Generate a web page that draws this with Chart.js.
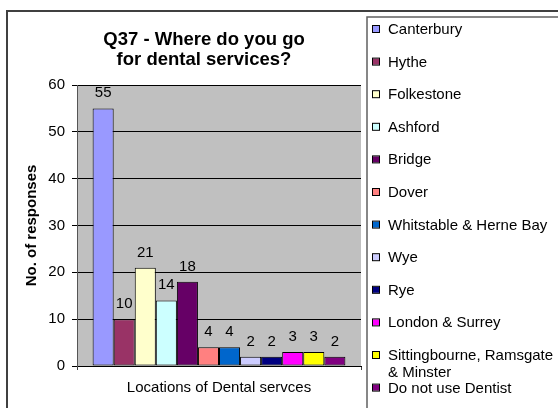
<!DOCTYPE html>
<html>
<head>
<meta charset="utf-8">
<script src="https://cdn.jsdelivr.net/npm/chart.js@4/dist/chart.umd.min.js"></script>
<style>
  html, body { margin: 0; padding: 0; background: #fff; }
</style>
</head>
<body>
<canvas id="chart" width="558" height="408"></canvas>
<script>
const titleLines = ['Q37 - Where do you go', 'for dental services?'];
const locations = ['Canterbury', 'Hythe', 'Folkestone', 'Ashford', 'Bridge', 'Dover',
  'Whitstable & Herne Bay', 'Wye', 'Rye', 'London & Surrey',
  'Sittingbourne, Ramsgate & Minster', 'Do not use Dentist'];
const responses = [55, 10, 21, 14, 18, 4, 4, 2, 2, 3, 3, 2];
const barColours = ['#9999ff', '#993366', '#ffffcc', '#ccffff', '#660066', '#ff8080',
  '#0066cc', '#ccccff', '#000080', '#ff00ff', '#ffff00', '#800080'];
const yTicks = [0, 10, 20, 30, 40, 50, 60];

const font = 'Liberation Sans, Arial, sans-serif';

// grey plot area, frame, title, legend and value labels (excel look)
const excelLook = {
  id: 'excelLook',
  beforeDraw(chart) {
    const { ctx, chartArea: a } = chart;
    ctx.save();
    ctx.fillStyle = '#fff';
    ctx.fillRect(0, 0, chart.width, chart.height);
    ctx.fillStyle = '#c0c0c0';
    ctx.fillRect(a.left, a.top, a.right - a.left, a.bottom - a.top);
    ctx.restore();
  },
  afterDatasetsDraw(chart) {
    const ctx = chart.ctx;
    ctx.save();
    ctx.fillStyle = '#000';
    ctx.font = '15px ' + font;
    ctx.textAlign = 'center';
    ctx.textBaseline = 'alphabetic';
    chart.data.datasets.forEach((ds, i) => {
      const bar = chart.getDatasetMeta(i).data[0];
      ctx.fillText(ds.data[0], bar.x, bar.y - 11);
    });
    ctx.restore();
  },
  afterDraw(chart) {
    const ctx = chart.ctx;
    ctx.save();
    // outer chart frame
    ctx.strokeStyle = '#404040';
    ctx.lineWidth = 2;
    ctx.strokeRect(7, 11, 600, 500);
    // title
    ctx.fillStyle = '#000';
    ctx.font = 'bold 18.5px ' + font;
    ctx.textAlign = 'center';
    titleLines.forEach((t, i) => ctx.fillText(t, 204, 45 + i * 19.5));
    // legend box
    ctx.fillStyle = '#fff';
    ctx.fillRect(367, 17, 300, 500);
    ctx.strokeStyle = '#606060';
    ctx.lineWidth = 1.5;
    ctx.strokeRect(367, 17, 300, 500);
    ctx.font = '15px ' + font;
    ctx.textAlign = 'left';
    ctx.lineWidth = 1;
    chart.data.datasets.forEach((ds, i) => {
      const cy = 29 + i * 32.6;
      ctx.fillStyle = ds.backgroundColor;
      ctx.fillRect(373, cy - 3, 6, 6);
      ctx.strokeStyle = '#000';
      ctx.strokeRect(372.5, cy - 3.5, 7, 7);
      // wrap long labels
      const words = ds.label.split(' ');
      const lines = [];
      let line = '';
      words.forEach(w => {
        const test = line ? line + ' ' + w : w;
        if (ctx.measureText(test).width > 166 && line) { lines.push(line); line = w; }
        else line = test;
      });
      lines.push(line);
      ctx.fillStyle = '#000';
      lines.forEach((l, k) => ctx.fillText(l, 388, cy + 5 + k * 17));
    });
    ctx.restore();
  }
};

new Chart(document.getElementById('chart'), {
  type: 'bar',
  data: {
    labels: [''],
    datasets: locations.map((name, i) => ({
      label: name,
      data: [responses[i]],
      backgroundColor: barColours[i],
      borderColor: '#000',
      borderWidth: 1,
      borderSkipped: false,
      categoryPercentage: 0.89,
      barPercentage: 1
    }))
  },
  options: {
    responsive: false,
    animation: false,
    layout: { padding: { left: 0, right: 197, top: 85, bottom: 0 } },
    plugins: {
      legend: { display: false },
      title: { display: false },
      tooltip: { enabled: false }
    },
    scales: {
      x: {
        offset: true,
        grid: { offset: true, drawOnChartArea: false, color: '#404040', tickLength: 4 },
        border: { color: '#000' },
        ticks: { display: false },
        title: {
          display: true,
          text: 'Locations of Dental servces',
          color: '#000',
          font: { family: font, size: 15 },
          padding: { top: 0, bottom: 11 }
        },
        afterFit(scale) { scale.height = 42; }
      },
      y: {
        min: 0,
        max: 60,
        afterBuildTicks(scale) { scale.ticks = yTicks.map(v => ({ value: v })); },
        grid: { color: '#000', tickLength: 5 },
        border: { color: '#555' },
        ticks: { color: '#000', padding: 7, font: { family: font, size: 15 } },
        title: {
          display: true,
          text: 'No. of responses',
          color: '#000',
          font: { family: font, size: 15, weight: 'bold' },
          padding: { top: 23, bottom: 0 }
        },
        afterFit(scale) { scale.width = 77; }
      }
    }
  },
  plugins: [excelLook]
});
</script>
</body>
</html>
